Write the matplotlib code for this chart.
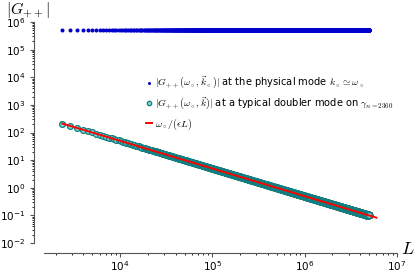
import numpy as np
import matplotlib.pyplot as plt
from matplotlib.ticker import LogLocator, NullFormatter

plt.rcParams['mathtext.fontset'] = 'cm'

# data: lattice sizes L (linear grid), physical mode level, doubler amplitude scale
L_start, L_step, L_stop = 2360, 520, 5.0e6
phys_level = 5.0e5          # |G++| at the physical mode
omega_over_eps = 5.0e5      # omega_o / epsilon
L_fit = [2360, 6.0e6]       # range of reference line

L = np.arange(L_start, L_stop, L_step)
G_phys = np.full(len(L), phys_level)
G_doubler = omega_over_eps / L
fit_vals = [omega_over_eps / v for v in L_fit]

fig = plt.figure(figsize=(4.16, 2.75), dpi=100)
ax = fig.add_axes([0.106, 0.116, 0.848, 0.804])

ax.plot(L, G_phys, 'o', color='#0000cc', markersize=2.9, markeredgewidth=0,
        label=r'$|G_{++}(\omega_\circ,\vec{k}_\circ)|$ at the physical mode $k_\circ\simeq\omega_\circ$')
ax.plot(L, G_doubler, 'o', markerfacecolor='#7fd9d9', markeredgecolor='#107f80',
        markersize=4.2, markeredgewidth=0.9,
        label=r'$|G_{++}(\omega_\circ,\vec{k})|$ at a typical doubler mode on $\gamma_{n=2360}$')
ax.plot(L_fit, fit_vals, '-', color='red', linewidth=1.4,
        label=r'$\omega_\circ/(\epsilon L)$')

ax.set_xscale('log')
ax.set_yscale('log')
ax.set_xlim(1500, 1e7)
ax.set_ylim(1e-2, 1e6)

ax.yaxis.set_major_locator(LogLocator(base=10, numticks=20))
ax.yaxis.set_minor_locator(LogLocator(base=10, subs=np.arange(2, 10), numticks=100))
ax.yaxis.set_minor_formatter(NullFormatter())
ax.xaxis.set_minor_locator(LogLocator(base=10, subs=np.arange(2, 10), numticks=100))
ax.xaxis.set_minor_formatter(NullFormatter())

for s in ['top', 'right']:
    ax.spines[s].set_visible(False)
ax.spines['left'].set_position(('outward', 7))
ax.spines['bottom'].set_position(('outward', 7))
for s in ['left', 'bottom']:
    ax.spines[s].set_color('#555555')
ax.tick_params(labelsize=7.5, length=3, color='#555555')
ax.tick_params(axis='x', pad=1.5)
ax.tick_params(which='minor', length=1.5)

fig.text(0.015, 0.998, r'$|G_{++}|$', fontsize=11.5, va='top')
fig.text(0.965, 0.075, r'$L$', fontsize=13)

ax.legend(loc='upper left', bbox_to_anchor=(0.29, 0.76), frameon=False,
          fontsize=7.1, handlelength=0.6, handletextpad=0.3, markerscale=0.75,
          labelspacing=0.45, borderaxespad=0, borderpad=0)

fig.savefig('out.png', dpi=100)
